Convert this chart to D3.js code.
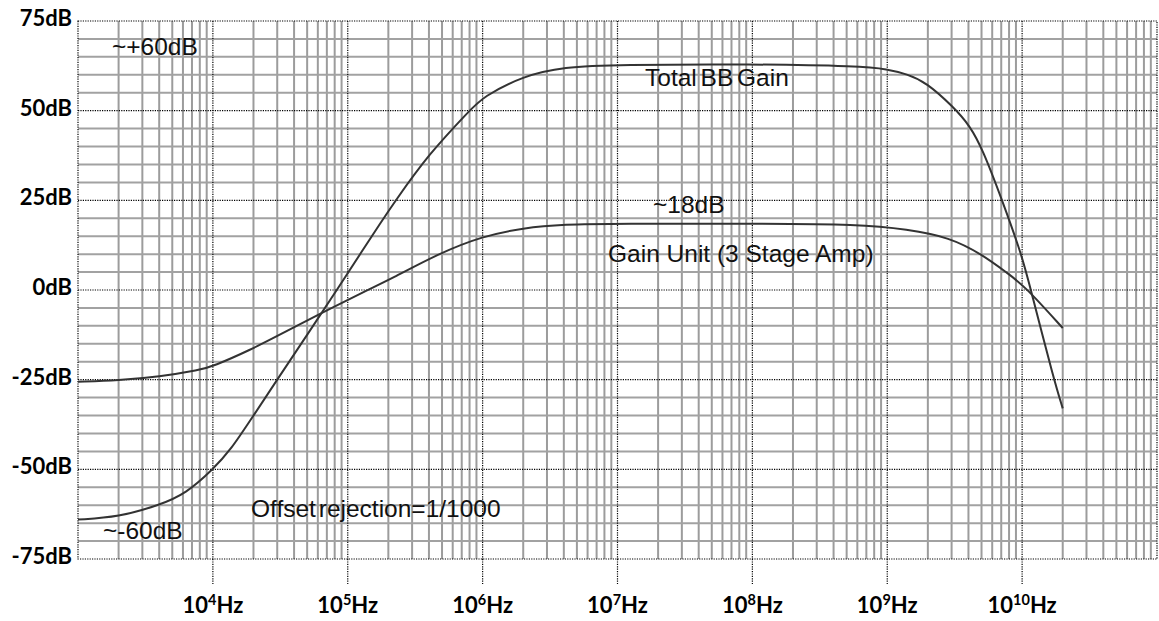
<!DOCTYPE html>
<html>
<head>
<meta charset="utf-8">
<script src="https://cdn.jsdelivr.net/npm/d3@7"></script>
<style>
  html, body { margin: 0; padding: 0; background: #fff; }
  svg { display: block; }
</style>
</head>
<body>
<svg id="chart" width="1159" height="621"></svg>
<script>
// Frequency response of the baseband chain: total gain and a single gain unit.

// Decade exponents labelled under the axis, and dB levels labelled on the left
const decadeExps = [4, 5, 6, 7, 8, 9, 10];
const dbTicks = [75, 50, 25, 0, -25, -50, -75];

// Total BB Gain (Hz, dB)
const totalFreq = [1e3, 2e3, 4e3, 6.3e3, 1e4, 1.35e4, 2e4, 3e4, 5e4, 8.3e4, 1.3e5, 1.75e5, 2.2e5,
                   4e5, 8e5, 1e6, 2e6, 4e6, 1e7, 1e8, 6.3e8, 1e9, 1.4e9, 1.95e9, 3.1e9, 4.1e9,
                   5.1e9, 7.1e9, 1e10, 1.16e10, 1.72e10, 2e10];
const totalDb   = [-64, -63.3, -60, -56.8, -50, -44.7, -35, -25, -12.5, 0, 11.3, 18.7, 24.3,
                   38, 50, 53.8, 59.7, 62.2, 62.8, 63, 62.4, 61.6, 60.2, 57.9, 51, 45.8,
                   39.2, 25.1, 9.5, 0, -25, -33];

// Gain Unit (3 Stage Amp) (Hz, dB)
const unitFreq = [1e3, 2e3, 4e3, 8e3, 1e4, 1.9e4, 3.2e4, 6.4e4, 1.4e5, 2.05e5, 4.8e5, 1e6, 2e6,
                  4e6, 1e7, 1e8, 6.3e8, 1.4e9, 2.9e9, 5.1e9, 7.7e9, 1.04e10, 2e10];
const unitDb   = [-25.6, -25.2, -24.2, -22.3, -21.3, -16.7, -12.3, -6.4, 0, 2.9, 10.3, 15, 17.3,
                  18.3, 18.5, 18.5, 18.3, 16.9, 14.7, 9.8, 4.8, 1.2, -10.6];

const svg = d3.select("#chart");
const W = 1159, H = 621;
svg.append("rect").attr("width", W).attr("height", H).attr("fill", "#fff");

const plotL = 78, plotR = 1157, plotT = 21, plotB = 559;
const x = d3.scaleLog().domain([1e3, 1e11]).range([plotL, plotR]);
const y = d3.scaleLinear().domain([-75, 75]).range([plotB, plotT]);

const grid = svg.append("g");

// minor vertical grid: 2..9 within each decade
const minorF = [];
for (let e = 3; e <= 10; e++) for (let k = 2; k <= 9; k++) minorF.push(k * Math.pow(10, e));
grid.selectAll("line.vmin").data(minorF).join("line")
  .attr("x1", d => x(d)).attr("x2", d => x(d))
  .attr("y1", plotT).attr("y2", plotB)
  .attr("stroke", "#9c9c9c").attr("stroke-width", 2);

// minor horizontal grid every 5 dB
const minorDb = d3.range(-70, 75, 5).filter(d => d % 25 !== 0);
grid.selectAll("line.hmin").data(minorDb).join("line")
  .attr("x1", plotL).attr("x2", plotR)
  .attr("y1", d => y(d)).attr("y2", d => y(d))
  .attr("stroke", "#a2a2a2").attr("stroke-width", 2);

// major dotted lines: decades and every 25 dB
const majorF = d3.range(4, 11).map(e => Math.pow(10, e));
const dotted = { stroke: "#000", "stroke-width": 1.2, "stroke-dasharray": "1.2,1.2" };
function applyDot(sel) { Object.entries(dotted).forEach(([k, v]) => sel.attr(k, v)); return sel; }

applyDot(grid.selectAll("line.vmaj").data(majorF).join("line")
  .attr("x1", d => x(d)).attr("x2", d => x(d))
  .attr("y1", plotT).attr("y2", plotB));
applyDot(grid.selectAll("line.hmaj").data([50, 25, 0, -25, -50]).join("line")
  .attr("x1", plotL).attr("x2", plotR)
  .attr("y1", d => y(d)).attr("y2", d => y(d)));

// plot frame
applyDot(grid.append("rect")
  .attr("x", plotL).attr("y", plotT)
  .attr("width", plotR - plotL).attr("height", plotB - plotT)
  .attr("fill", "none"));

// short dotted ticks below the frame at each labelled decade
applyDot(grid.selectAll("line.tick").data(decadeExps).join("line")
  .attr("x1", d => x(Math.pow(10, d))).attr("x2", d => x(Math.pow(10, d)))
  .attr("y1", plotB).attr("y2", plotB + 25));

// curves
const line = d3.line().x(d => x(d[0])).y(d => y(d[1])).curve(d3.curveBasis);
const totalPts = totalFreq.map((f, i) => [f, totalDb[i]]);
const unitPts = unitFreq.map((f, i) => [f, unitDb[i]]);
svg.append("path").attr("d", line(totalPts)).attr("fill", "none")
  .attr("stroke", "#333").attr("stroke-width", 2);
svg.append("path").attr("d", line(unitPts)).attr("fill", "none")
  .attr("stroke", "#333").attr("stroke-width", 2);

// y labels
const boldFont = "Lato, 'Open Sans', sans-serif";
svg.selectAll("text.ylab").data(dbTicks).join("text")
  .attr("x", 72).attr("y", d => y(d) + 5)
  .attr("text-anchor", "end")
  .attr("font-family", boldFont).attr("font-weight", 700).attr("font-size", 22)
  .attr("fill", "#000")
  .text(d => d + "dB");

// x labels: 10^n Hz
const xl = svg.selectAll("text.xlab").data(decadeExps).join("text")
  .attr("x", d => x(Math.pow(10, d)))
  .attr("y", 613)
  .attr("text-anchor", "middle")
  .attr("font-family", boldFont).attr("font-weight", 700).attr("font-size", 22)
  .attr("fill", "#000");
xl.append("tspan").text("10");
xl.append("tspan").attr("font-size", 14.5).attr("dy", -8).text(d => d);
xl.append("tspan").attr("dy", 8).text("Hz");

// annotations
const annFont = "'Liberation Sans', Arial, sans-serif";
function note(tx, px, py, extra) {
  const t = svg.append("text").attr("x", px).attr("y", py)
    .attr("font-family", annFont).attr("font-size", 24.5).attr("fill", "#111").text(tx);
  if (extra) Object.entries(extra).forEach(([k, v]) => t.attr(k, v));
  return t;
}
note("~+60dB", 112, 55);
note("~-60dB", 103, 539);
note("Total BB Gain", 645, 86, { "word-spacing": -3 });
note("~18dB", 653, 213);
note("Gain Unit (3 Stage Amp)", 608, 262);
note("Offset rejection=1/1000", 251, 517, { "word-spacing": -4 });
</script>
</body>
</html>
